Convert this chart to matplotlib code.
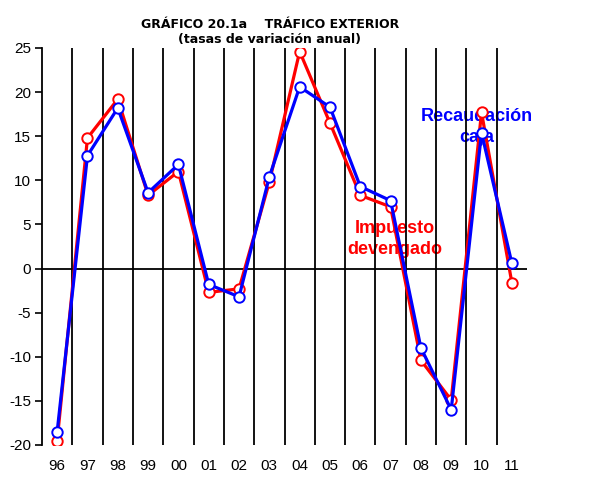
import numpy as np
import matplotlib
matplotlib.use("Agg")
import matplotlib.pyplot as plt

# Datos
years = ['96', '97', '98', '99', '00', '01', '02', '03',
         '04', '05', '06', '07', '08', '09', '10', '11']
devengado = [-19.5, 14.8, 19.2, 8.3, 11.0, -2.7, -2.3, 9.8,
             24.6, 16.5, 8.3, 7.0, -10.4, -14.9, 17.7, -1.6]
caja = [-18.5, 12.8, 18.2, 8.6, 11.8, -1.8, -3.2, 10.4,
        20.6, 18.3, 9.3, 7.7, -9.0, -16.0, 15.4, 0.6]

plt.rcParams['font.family'] = ['Liberation Sans', 'DejaVu Sans']
plt.rcParams['axes.unicode_minus'] = False

W, H = 597, 478
fig = plt.figure(figsize=(W / 100, H / 100), dpi=100)
ax = fig.add_axes([42 / W, 33 / H, 485 / W, 397 / H])

x = np.arange(len(years))

# Líneas verticales entre años y línea de cero
for xv in x[:-1] + 0.5:
    ax.axvline(xv, color='black', lw=1.3, zorder=1)
ax.axhline(0, color='black', lw=1.3, zorder=1)

ax.plot(x, devengado, color='red', lw=2.3, marker='o', ms=7.5,
        mfc='white', mec='red', mew=1.4, zorder=3)
ax.plot(x, caja, color='blue', lw=2.3, marker='o', ms=7.5,
        mfc='white', mec='blue', mew=1.4, zorder=4)

ax.set_xlim(-0.5, len(years) - 0.5)
ax.set_ylim(-20, 25)
ax.set_yticks(range(-20, 26, 5))
ax.set_xticks(x)
ax.set_xticklabels(years)
ax.tick_params(axis='x', length=0, pad=10, labelsize=11)
ax.tick_params(axis='y', length=5, width=1.2, direction='out', labelsize=11, pad=3)

for s in ['top', 'right', 'bottom']:
    ax.spines[s].set_visible(False)
ax.spines['left'].set_linewidth(1.3)

# Etiquetas de las series (debajo de las líneas verticales)
ax.text(477 / W, 1 - 127 / H, 'Recaudación\ncaja', color='blue',
        transform=fig.transFigure, fontsize=13, fontweight='bold',
        ha='center', va='center', linespacing=1.3, zorder=0.5)
ax.text(395 / W, 1 - 239 / H, 'Impuesto\ndevengado', color='red',
        transform=fig.transFigure, fontsize=13, fontweight='bold',
        ha='center', va='center', linespacing=1.3, zorder=0.5)

fig.text(270 / W, 1 - 32 / H,
         'GRÁFICO 20.1a    TRÁFICO EXTERIOR\n(tasas de variación anual)',
         ha='center', va='center', fontsize=9, fontweight='bold',
         family='DejaVu Sans', linespacing=1.3)

fig.savefig('out.png', dpi=100)
